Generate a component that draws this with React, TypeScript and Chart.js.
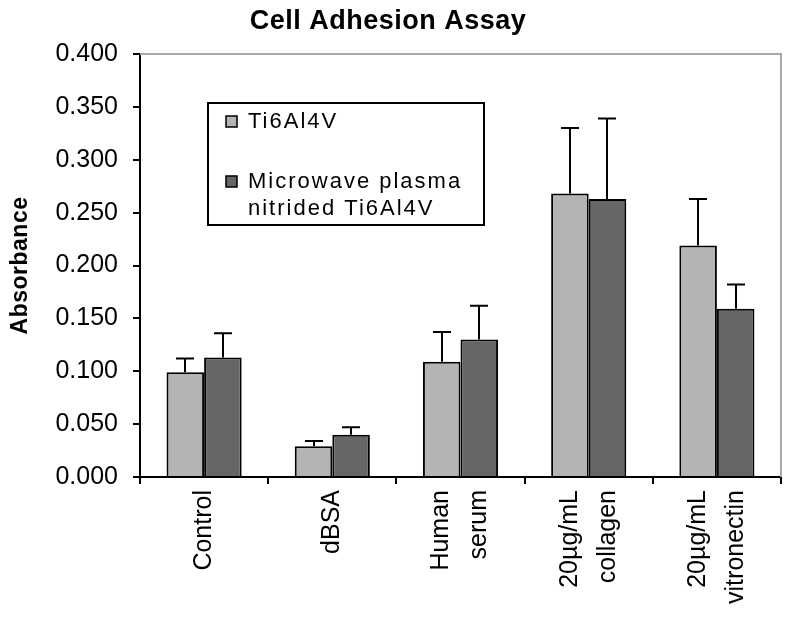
import React, { useEffect, useRef } from 'react';
import { Chart, registerables } from 'chart.js';

Chart.register(...registerables);

const chartTitle = 'Cell Adhesion Assay';
const yAxisTitle = 'Absorbance';
const categories: string[][] = [
  ['Control'],
  ['dBSA'],
  ['Human', 'serum'],
  ['20µg/mL', 'collagen'],
  ['20µg/mL', 'vitronectin'],
];
const seriesNames = ['Ti6Al4V', 'Microwave plasma nitrided Ti6Al4V'];
const legendLines: string[][] = [['Ti6Al4V'], ['Microwave plasma', 'nitrided Ti6Al4V']];
const ti6al4v = [0.099, 0.029, 0.109, 0.268, 0.219];
const ti6al4vErr = [0.013, 0.005, 0.028, 0.062, 0.044];
const nitrided = [0.113, 0.040, 0.130, 0.263, 0.159];
const nitridedErr = [0.023, 0.007, 0.032, 0.076, 0.023];
const yTicks = [0, 0.05, 0.1, 0.15, 0.2, 0.25, 0.3, 0.35, 0.4];
const seriesColors = ['#b4b4b4', '#666666'];

const FONT = "'Liberation Sans', Arial, sans-serif";

const errorBarPlugin = {
  id: 'errorBars',
  afterDatasetsDraw(chart: any) {
    const ctx = chart.ctx;
    const yScale = chart.scales.y;
    const errs = [ti6al4vErr, nitridedErr];
    ctx.save();
    ctx.strokeStyle = '#000';
    ctx.lineWidth = 2;
    chart.data.datasets.forEach((ds: any, di: number) => {
      const meta = chart.getDatasetMeta(di);
      meta.data.forEach((el: any, i: number) => {
        const v = ds.data[i];
        const top = yScale.getPixelForValue(v + errs[di][i]);
        const x = Math.round(el.x);
        ctx.beginPath();
        ctx.moveTo(x, el.y);
        ctx.lineTo(x, top);
        ctx.moveTo(x - 9, top);
        ctx.lineTo(x + 9, top);
        ctx.stroke();
      });
    });
    ctx.restore();
  },
};

const textPlugin = {
  id: 'texts',
  afterDraw(chart: any) {
    const ctx = chart.ctx;
    const a = chart.chartArea;
    const xScale = chart.scales.x;
    ctx.save();
    // gray plot frame top and right
    ctx.strokeStyle = '#a8a8a8';
    ctx.lineWidth = 2;
    ctx.beginPath();
    ctx.moveTo(a.left, a.top);
    ctx.lineTo(a.right, a.top);
    ctx.lineTo(a.right, a.bottom);
    ctx.stroke();

    // title
    ctx.fillStyle = '#000';
    ctx.textAlign = 'center';
    ctx.textBaseline = 'middle';
    ctx.font = `bold 27px ${FONT}`;
    (ctx as any).letterSpacing = '0.5px';
    ctx.fillText(chartTitle, 388, 22);

    // y axis title
    ctx.save();
    ctx.font = `bold 23px ${FONT}`;
    (ctx as any).letterSpacing = '0.5px';
    ctx.translate(21, (a.top + a.bottom) / 2);
    ctx.rotate(-Math.PI / 2);
    ctx.fillText(yAxisTitle, 0, 0);
    ctx.restore();

    // x category labels (rotated, multi-line)
    ctx.font = `25px ${FONT}`;
    (ctx as any).letterSpacing = '0px';
    ctx.textAlign = 'right';
    ctx.textBaseline = 'middle';
    const lineGap = 38;
    categories.forEach((lines, i) => {
      const cx = xScale.getPixelForTick(i);
      lines.forEach((t, li) => {
        const x = cx + (li - (lines.length - 1) / 2) * lineGap;
        ctx.save();
        ctx.translate(x, a.bottom + 13);
        ctx.rotate(-Math.PI / 2);
        ctx.fillText(t, 0, 0);
        ctx.restore();
      });
    });

    // legend box
    const bx = a.left + 68;
    const by = a.top + 49;
    const bw = 276;
    const bh = 122;
    ctx.fillStyle = '#fff';
    ctx.fillRect(bx, by, bw, bh);
    ctx.strokeStyle = '#000';
    ctx.lineWidth = 2;
    ctx.strokeRect(bx, by, bw, bh);

    ctx.font = `22px ${FONT}`;
    (ctx as any).letterSpacing = '2px';
    ctx.textBaseline = 'middle';
    ctx.textAlign = 'left';
    const entryY = [by + 19, by + 79];
    const legendGap = 27;
    legendLines.forEach((lines, i) => {
      const y0 = entryY[i];
      ctx.fillStyle = seriesColors[i];
      ctx.fillRect(bx + 18, y0 - 6, 11, 11);
      ctx.strokeStyle = '#000';
      ctx.lineWidth = 1.5;
      ctx.strokeRect(bx + 18, y0 - 6, 11, 11);
      ctx.fillStyle = '#000';
      lines.forEach((t, li) => {
        ctx.fillText(t, bx + 40, y0 + li * legendGap);
      });
    });
    ctx.restore();
  },
};

export default function App() {
  const canvasRef = useRef<HTMLCanvasElement | null>(null);

  useEffect(() => {
    if (!canvasRef.current) return;
    const chart = new Chart(canvasRef.current, {
      type: 'bar',
      data: {
        labels: categories,
        datasets: [
          {
            label: seriesNames[0],
            data: ti6al4v,
            backgroundColor: seriesColors[0],
            borderColor: '#000',
            borderWidth: 2,
            categoryPercentage: 0.586,
            barPercentage: 1,
          },
          {
            label: seriesNames[1],
            data: nitrided,
            backgroundColor: seriesColors[1],
            borderColor: '#000',
            borderWidth: 2,
            categoryPercentage: 0.586,
            barPercentage: 1,
          },
        ],
      },
      options: {
        animation: false,
        responsive: true,
        maintainAspectRatio: false,
        layout: { padding: { left: 0, right: 11, top: 54, bottom: 0 } },
        plugins: {
          legend: { display: false },
          tooltip: { enabled: false },
          title: { display: false },
        },
        scales: {
          x: {
            offset: true,
            border: { display: true, color: '#000', width: 2 },
            grid: {
              offset: true,
              drawOnChartArea: false,
              drawTicks: true,
              tickLength: 7,
              color: '#000',
              lineWidth: 2,
            },
            ticks: { display: false },
            afterFit(scale: any) {
              scale.height = 143;
              scale.paddingLeft = 0;
              scale.paddingRight = 0;
            },
          },
          y: {
            min: 0,
            max: 0.4,
            border: { display: true, color: '#000', width: 2 },
            grid: {
              drawOnChartArea: false,
              drawTicks: true,
              tickLength: 7,
              color: '#000',
              lineWidth: 2,
            },
            afterBuildTicks(scale: any) {
              scale.ticks = yTicks.map((v) => ({ value: v }));
            },
            ticks: {
              color: '#000',
              font: { family: FONT, size: 25 },
              padding: 15,
              callback: (v: any) => Number(v).toFixed(3),
            },
            afterFit(scale: any) {
              scale.width = 140;
            },
          },
        },
      },
      plugins: [errorBarPlugin, textPlugin],
    } as any);
    return () => chart.destroy();
  }, []);

  return (
    <div style={{ position: 'fixed', left: 0, top: 0, width: 792, height: 620, background: '#fff' }}>
      <canvas ref={canvasRef} />
    </div>
  );
}
